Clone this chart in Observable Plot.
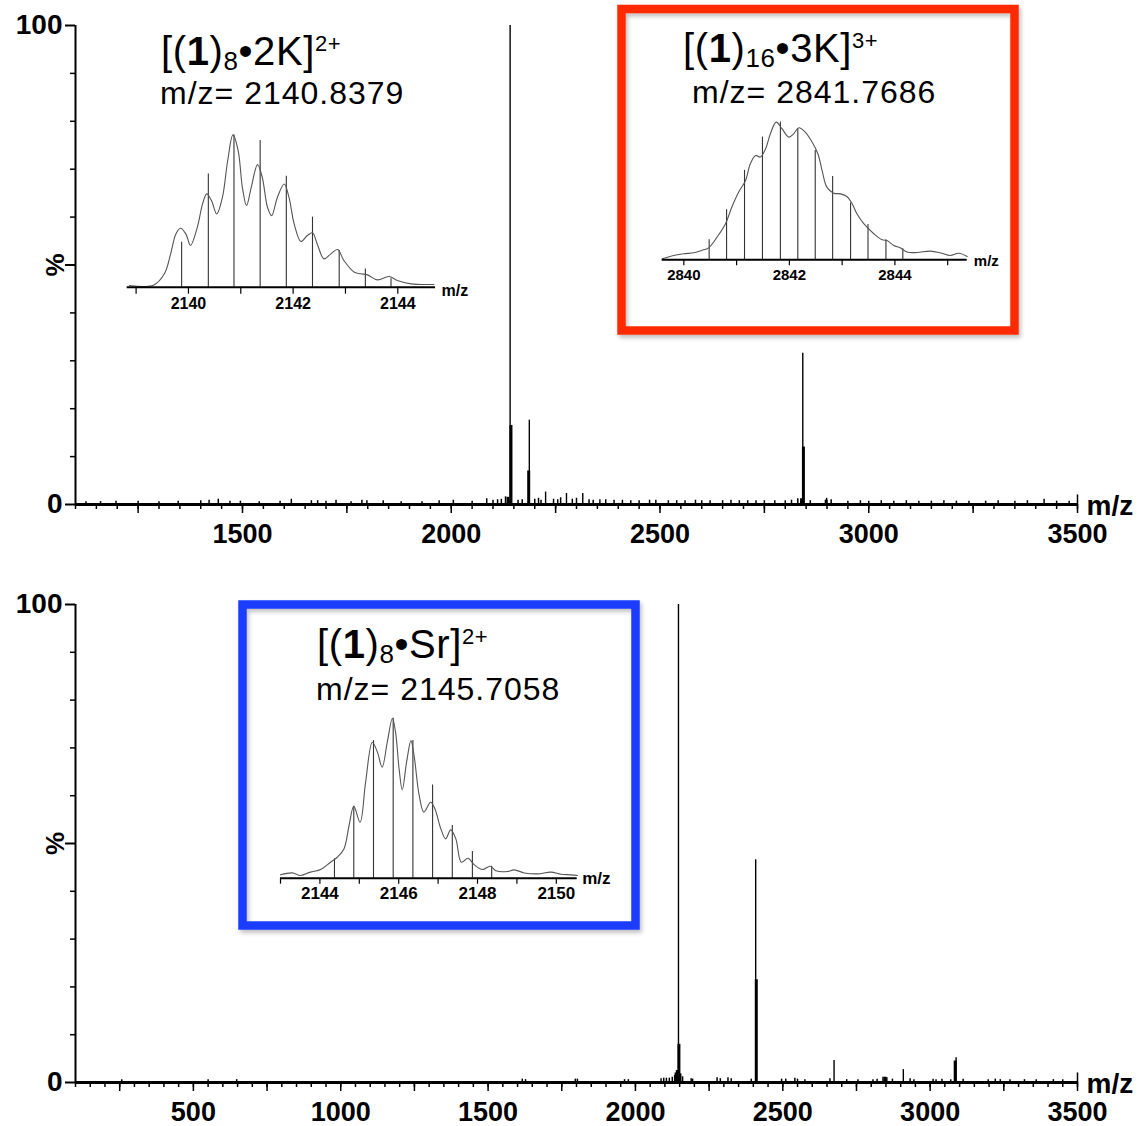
<!DOCTYPE html>
<html><head><meta charset="utf-8">
<script src="https://cdn.jsdelivr.net/npm/d3@7"></script>
<script src="https://cdn.jsdelivr.net/npm/@observablehq/plot@0.6"></script>
<style>
html,body{margin:0;padding:0;background:#fff;}
#wrap{position:relative;width:1141px;height:1126px;overflow:hidden;font-family:"Liberation Sans",Arial,sans-serif;}
#wrap svg{position:absolute;overflow:visible;}
</style></head><body><div id="wrap"></div>
<script>
const FONT = '"Liberation Sans", Arial, Helvetica, sans-serif';

// ---------- top spectrum (K+) ----------
const topThin = [
  {mz: 2141, i: 100}, {mz: 2187, i: 17.6}, {mz: 2842, i: 31.6},
  {mz: 2226, i: 2.6}, {mz: 2276, i: 2.3}, {mz: 2315, i: 2.3}, {mz: 2356, i: 1.0}, {mz: 2899, i: 1.3}
];
const topThick = [
  {mz: 2143, i: 16.5}, {mz: 2185.5, i: 7.0}, {mz: 2843.5, i: 12.0},
  {mz: 2136, i: 1.5}, {mz: 2839, i: 1.2}, {mz: 2898, i: 0.9}
];
const topNoise = [
  [1125,0.6],[1160,0.6],[1197,0.7],[1250,0.7],[1300,0.6],[1346,0.7],[1400,0.8],[1420,0.9],[1442,1.1],[1470,0.7],
  [1495,0.7],[1540,0.6],[1590,0.7],[1617,1.1],[1665,0.8],[1680,0.8],[1700,0.7],[1724,0.9],[1760,0.6],[1786,0.9],
  [1798,0.8],[1837,0.8],[1880,0.6],[1930,0.6],[1971,0.8],[2005,0.9],[2050,0.7],[2085,1.2],[2100,0.9],[2111,1.0],
  [2120,1.1],[2130,1.6],[2160,0.9],[2170,1.0],[2200,1.1],[2209,1.3],[2215,0.9],[2245,1.1],[2255,1.0],[2262,1.4],
  [2290,1.1],[2300,1.3],[2330,1.0],[2340,0.9],[2370,1.0],[2390,0.9],[2410,0.9],[2430,0.8],[2450,0.8],[2475,0.9],
  [2490,0.9],[2520,0.8],[2540,0.8],[2560,0.8],[2585,0.9],[2600,0.8],[2620,0.8],[2650,0.8],[2670,0.9],[2690,0.8],
  [2710,0.8],[2730,0.8],[2750,0.8],[2775,0.8],[2800,0.8],[2815,0.9],[2830,1.2],[2860,0.8],[2910,1.0],[2950,0.7],
  [2980,0.8],[3000,0.7],[3030,0.8],[3060,0.7],[3090,0.8],[3120,0.7],[3150,0.7],[3180,0.8],[3210,0.7],[3240,0.7],
  [3280,0.7],[3310,0.8],[3350,0.7],[3380,0.8],[3420,1.1],[3450,0.7],[3480,0.7]
].map(([mz, i]) => ({mz, i}));

// ---------- bottom spectrum (Sr2+) ----------
const botThin = [
  {mz: 2146, i: 100}, {mz: 2408, i: 46.6}, {mz: 2674, i: 4.6}, {mz: 2909, i: 2.7}, {mz: 3088, i: 5.2}
];
const botThick = [
  {mz: 2147.5, i: 8.0}, {mz: 2138, i: 2.0}, {mz: 2142, i: 2.5}, {mz: 2151, i: 1.8},
  {mz: 2410, i: 21.5}, {mz: 3085, i: 4.5}, {mz: 2847, i: 1.1}
];
const botNoise = [
  [257,0.6],[550,0.6],[647,0.6],[1616,0.7],[1627,0.6],[1796,0.7],[1803,0.7],[1963,0.6],[1976,0.6],[2087,0.8],
  [2096,0.9],[2105,0.9],[2115,0.9],[2125,1.1],[2133,1.5],[2160,1.2],[2189,0.8],[2194,0.7],[2277,1.0],[2288,0.8],
  [2314,1.0],[2325,0.8],[2393,0.7],[2496,0.7],[2510,0.7],[2541,0.9],[2550,0.7],[2575,0.6],[2660,0.8],[2717,0.6],
  [2755,0.6],[2806,0.6],[2820,0.7],[2840,1.1],[2853,1.0],[2872,0.7],[2932,0.8],[2945,0.6],[3010,0.7],[3020,0.6],
  [3040,0.7],[3070,0.6],[3112,0.7],[3197,0.6],[3221,0.7],[3238,0.6],[3271,0.6],[3320,0.6],[3360,0.6],[3418,0.6],[3450,0.6]
].map(([mz, i]) => ({mz, i}));

// ---------- inset 1: [(1)8•2K]2+ ----------
const curve1 = [
  [2138.87,1.1],[2139.34,1.5],[2139.54,8.8],[2139.66,21.9],[2139.76,35.0],[2139.85,38.7],[2139.95,35.0],[2140.04,27.4],
  [2140.17,39.4],[2140.27,54.7],[2140.35,61.3],[2140.44,56.9],[2140.54,48.1],[2140.65,59.1],[2140.75,83.2],[2140.85,100],
  [2140.95,89.7],[2141.03,65.6],[2141.11,53.6],[2141.20,65.6],[2141.32,80.5],[2141.41,72.2],[2141.51,52.5],[2141.59,47.0],
  [2141.70,59.1],[2141.83,67.8],[2141.92,59.1],[2142.02,41.6],[2142.15,30.0],[2142.27,33.9],[2142.37,35.7],[2142.46,28.4],
  [2142.59,18.6],[2142.72,21.9],[2142.85,24.7],[2142.97,17.5],[2143.17,9.8],[2143.29,8.8],[2143.42,8.1],[2143.61,4.8],
  [2143.83,7.0],[2143.99,4.4],[2144.25,2.2],[2144.69,1.8]
].map(([mz, i]) => ({mz, i}));
const sticks1 = [
  [2139.87,29.5],[2140.38,74.4],[2140.87,100],[2141.37,96.3],[2141.87,72.9],[2142.37,46.0],[2142.88,24.1],[2143.38,12.0],[2143.87,5.5]
].map(([mz, i]) => ({mz, i}));

// ---------- inset 2: [(1)16•3K]3+ ----------
const curve2 = [
  [2839.59,0.7],[2839.81,3.1],[2840.00,4.4],[2840.19,5.1],[2840.34,6.8],[2840.47,8.7],[2840.63,16.5],[2840.79,26.2],
  [2840.91,38.3],[2841.04,49.2],[2841.17,57.6],[2841.26,69.7],[2841.36,75.8],[2841.45,74.6],[2841.55,80.6],[2841.64,91.5],
  [2841.75,100],[2841.86,95.2],[2841.99,89.1],[2842.08,91.5],[2842.18,95.9],[2842.30,92.7],[2842.43,85.5],[2842.54,77.0],
  [2842.62,64.9],[2842.71,52.8],[2842.84,48.4],[2842.97,47.9],[2843.09,46.0],[2843.19,40.7],[2843.28,33.4],[2843.41,26.2],
  [2843.60,18.9],[2843.76,14.5],[2843.85,14.0],[2843.98,10.4],[2844.10,8.7],[2844.23,5.6],[2844.42,5.3],[2844.67,6.3],
  [2844.86,5.1],[2845.05,3.1],[2845.21,4.8],[2845.37,2.4]
].map(([mz, i]) => ({mz, i}));
const sticks2 = [
  [2840.48,14.5],[2840.81,36.3],[2841.15,64.9],[2841.49,89.1],[2841.83,100],[2842.16,95.2],[2842.49,79.4],[2842.82,60.5],
  [2843.16,41.2],[2843.49,25.7],[2843.83,14.5],[2844.15,8.0]
].map(([mz, i]) => ({mz, i}));

// ---------- inset 3: [(1)8•Sr]2+ ----------
const curve3 = [
  [2143.00,2.1],[2143.30,3.3],[2143.51,1.7],[2143.76,3.8],[2144.02,5.4],[2144.27,10.0],[2144.44,13.1],[2144.61,18.3],
  [2144.74,32.9],[2144.86,45.0],[2145.02,35.0],[2145.16,60.0],[2145.33,85.0],[2145.46,78.8],[2145.58,69.4],[2145.71,85.0],
  [2145.84,100],[2145.92,91.3],[2146.01,68.3],[2146.09,55.2],[2146.20,72.5],[2146.31,86.0],[2146.39,76.7],[2146.52,51.7],
  [2146.64,41.3],[2146.81,47.5],[2146.92,43.3],[2147.07,30.8],[2147.19,24.6],[2147.32,30.2],[2147.45,24.6],[2147.59,10.0],
  [2147.76,12.5],[2147.92,8.3],[2148.13,5.4],[2148.32,7.5],[2148.47,4.6],[2148.76,4.2],[2148.93,5.2],[2149.19,3.3],
  [2149.53,2.7],[2149.86,3.8],[2150.12,2.5],[2150.37,2.1],[2150.54,1.7]
].map(([mz, i]) => ({mz, i}));
const sticks3 = [
  [2144.37,12.1],[2144.86,45.0],[2145.36,86.0],[2145.86,100],[2146.36,86.0],[2146.86,58.3],[2147.36,32.9],[2147.87,16.7],[2148.36,7.5]
].map(([mz, i]) => ({mz, i}));

// ---------- tick values / labels ----------
const topLabels = [1500, 2000, 2500, 3000, 3500];
const botLabels = [500, 1000, 1500, 2000, 2500, 3000, 3500];
const topMinor = d3.range(1100, 3501, 50);
const topMajor = d3.range(1250, 3501, 250);
const botMinor = d3.range(100, 3501, 50);
const botMajor = d3.range(250, 3501, 250);
const yMinor = [10, 20, 30, 40, 60, 70, 80, 90];
const ticks1 = [2139, 2140, 2141, 2142, 2143, 2144];
const ticks2 = [2840, 2841, 2842, 2843, 2844, 2845];
const ticks3 = [2143, 2144, 2145, 2146, 2147, 2148, 2149, 2150];

const wrap = document.getElementById("wrap");

function place(el, left, top) {
  el.style.left = left + "px";
  el.style.top = top + "px";
  wrap.appendChild(el);
}

function panel({domain, thin, thick, noise, minor, major, labels, top, height, mb}) {
  const p = Plot.plot({
    width: 1141, height, marginLeft: 75, marginRight: 64, marginTop: 25, marginBottom: mb,
    x: {domain, label: null}, y: {domain: [0, 100], label: null},
    style: {fontFamily: FONT, background: "transparent", color: "#000", overflow: "visible"},
    marks: [
      Plot.ruleX(noise, {x: "mz", y1: 0, y2: "i", stroke: "#000", strokeWidth: 1.5}),
      Plot.ruleX(thick, {x: "mz", y1: 0, y2: "i", stroke: "#000", strokeWidth: 3}),
      Plot.ruleX(thin, {x: "mz", y1: 0, y2: "i", stroke: "#000", strokeWidth: 1.4}),
      Plot.ruleY([0], {stroke: "#000", strokeWidth: 3}),
      Plot.ruleX([domain[0]], {y1: 0, y2: 100, stroke: "#000", strokeWidth: 2}),
      Plot.ruleX([domain[1]], {y1: 0, y2: 2, stroke: "#000", strokeWidth: 1.5}),
      Plot.axisX({ticks: minor, tickSize: 5, tickFormat: () => "", strokeWidth: 1.5, label: null}),
      Plot.axisX({ticks: major, tickSize: 9, tickFormat: () => "", strokeWidth: 1.5, label: null}),
      Plot.axisX({ticks: labels, tickSize: 0, tickPadding: 19, fontSize: 27, fontWeight: "bold", tickFormat: d => String(d), label: null}),
      Plot.axisY({ticks: [0, 100], tickSize: 10, tickPadding: 3, fontSize: 28, fontWeight: "bold", tickFormat: d => String(d), strokeWidth: 2, label: null}),
      Plot.axisY({ticks: [50], tickSize: 10, tickFormat: () => "", strokeWidth: 2, label: null}),
      Plot.axisY({ticks: yMinor, tickSize: 5, tickFormat: () => "", strokeWidth: 1.5, label: null}),
      Plot.text(["%"], {x: domain[0], y: 50, text: d => d, dx: -20, rotate: -90, fontSize: 26, fontWeight: "bold", fill: "#000"}),
      Plot.text(["m/z"], {x: domain[1], y: 0, text: d => d, dx: 9, dy: 2, textAnchor: "start", fontSize: 28, fontWeight: "bold", fill: "#000"})
    ]
  });
  place(p, 0, top);
}

function inset({left, top, width, height, ml, mr, mt, mb, domain, ticks, curve, sticks, fs, tickSize, tickPadding, mzFs, mzDx, mzDy}) {
  const p = Plot.plot({
    width, height, marginLeft: ml, marginRight: mr, marginTop: mt, marginBottom: mb,
    x: {domain, label: null}, y: {domain: [0, 100], label: null, axis: null},
    style: {fontFamily: FONT, background: "transparent", color: "#000", overflow: "visible"},
    marks: [
      Plot.ruleX(sticks, {x: "mz", y1: 0, y2: "i", stroke: "#333", strokeWidth: 1.1}),
      Plot.line(curve, {x: "mz", y: "i", curve: "catmull-rom", stroke: "#555", strokeWidth: 1.1}),
      Plot.ruleY([0], {stroke: "#000", strokeWidth: 2}),
      Plot.axisX({ticks, tickSize, tickPadding, fontSize: fs, fontWeight: "bold", strokeWidth: 1.2,
                  tickFormat: d => d % 2 === 0 ? String(d) : "", label: null}),
      Plot.text(["m/z"], {x: domain[1], y: 0, text: d => d, dx: mzDx, dy: mzDy, textAnchor: "start", fontSize: mzFs, fontWeight: "bold", fill: "#000"})
    ]
  });
  place(p, left, top);
}

panel({domain: [1100, 3500], thin: topThin, thick: topThick, noise: topNoise, minor: topMinor, major: topMajor, labels: topLabels, top: 0, height: 556, mb: 52});
panel({domain: [100, 3500], thin: botThin, thick: botThick, noise: botNoise, minor: botMinor, major: botMajor, labels: botLabels, top: 579, height: 547, mb: 44});

inset({left: 110, top: 120, width: 370, height: 200, ml: 16.7, mr: 45, mt: 14.4, mb: 33.3,
       domain: [2138.83, 2144.72], ticks: ticks1, curve: curve1, sticks: sticks1,
       fs: 16, tickSize: 7, tickPadding: 3, mzFs: 16, mzDx: 6, mzDy: 3.5});
inset({left: 650, top: 110, width: 360, height: 180, ml: 11.7, mr: 43.3, mt: 11.6, mb: 30.7,
       domain: [2839.59, 2845.37], ticks: ticks2, curve: curve2, sticks: sticks2,
       fs: 15, tickSize: 6, tickPadding: 3.5, mzFs: 15, mzDx: 6.6, mzDy: 1});
inset({left: 270, top: 705, width: 360, height: 210, ml: 10, mr: 53.3, mt: 12.7, mb: 37.3,
       domain: [2143.0, 2150.53], ticks: ticks3, curve: curve3, sticks: sticks3,
       fs: 17, tickSize: 6, tickPadding: 3, mzFs: 17, mzDx: 5, mzDy: 0});

// ---------- annotation overlay (boxes + formulas) ----------
const title1 = {x: 161, y: 65, pre: "[(", bold: "1", mid: ")", sub: "8", post: "•2K]", sup: "2+"};
const title2 = {x: 683, y: 62, pre: "[(", bold: "1", mid: ")", sub: "16", post: "•3K]", sup: "3+"};
const title3 = {x: 317, y: 658, pre: "[(", bold: "1", mid: ")", sub: "8", post: "•Sr]", sup: "2+"};
const mz1 = {x: 160, y: 104, text: "m/z= 2140.8379"};
const mz2 = {x: 692, y: 103, text: "m/z= 2841.7686"};
const mz3 = {x: 316, y: 700, text: "m/z= 2145.7058"};

const ov = d3.create("svg").attr("width", 1141).attr("height", 1126)
  .style("left", "0px").style("top", "0px").style("font-family", FONT);
const defs = ov.append("defs");
const f = defs.append("filter").attr("id", "sh").attr("x", "-10%").attr("y", "-10%").attr("width", "120%").attr("height", "120%");
f.append("feDropShadow").attr("dx", 2).attr("dy", 3).attr("stdDeviation", 2).attr("flood-color", "#000").attr("flood-opacity", 0.25);

ov.append("rect").attr("x", 621.5).attr("y", 9).attr("width", 393).attr("height", 321.5)
  .attr("fill", "none").attr("stroke", "#ff2b06").attr("stroke-width", 8.5).attr("filter", "url(#sh)");
ov.append("rect").attr("x", 242.5).attr("y", 604.5).attr("width", 393).attr("height", 321)
  .attr("fill", "none").attr("stroke", "#1b3dff").attr("stroke-width", 8.5).attr("filter", "url(#sh)");

function formula(t) {
  const tx = ov.append("text").attr("x", t.x).attr("y", t.y).attr("font-size", 40)
    .attr("letter-spacing", 0.6).attr("fill", "#000");
  tx.append("tspan").text(t.pre);
  tx.append("tspan").attr("font-weight", "bold").text(t.bold);
  tx.append("tspan").text(t.mid);
  tx.append("tspan").attr("font-size", 26).attr("dy", 4.5).text(t.sub);
  tx.append("tspan").attr("dy", -4.5).text(t.post);
  tx.append("tspan").attr("font-size", 22).attr("dy", -14).text(t.sup);
}
function mzline(t) {
  ov.append("text").attr("x", t.x).attr("y", t.y).attr("font-size", 32)
    .attr("letter-spacing", 1).attr("fill", "#000").text(t.text);
}
[title1, title2, title3].forEach(formula);
[mz1, mz2, mz3].forEach(mzline);
place(ov.node(), 0, 0);
</script></body></html>
